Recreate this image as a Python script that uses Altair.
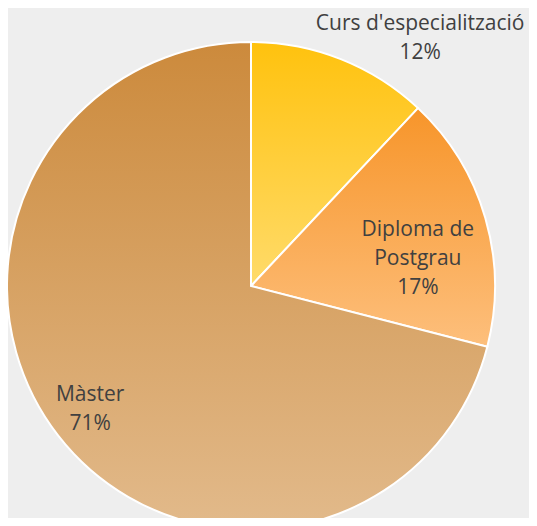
import altair as alt
import pandas as pd

categories = ["Curs d'especialització", "Diploma de Postgrau", "Màster"]
label_lines = [["Curs d'especialització"], ["Diploma de", "Postgrau"], ["Màster"]]
values = [12, 17, 71]
grad_top = ["#FFC20E", "#F7952A", "#CC8A3C"]
grad_bottom = ["#FFDB6A", "#FDBF7C", "#E2BA8B"]

df = pd.DataFrame({
    "cat": categories,
    "value": values,
    "order": list(range(len(categories))),
    "label": [lines + [f"{v}%"] for lines, v in zip(label_lines, values)],
})

W, H = 521, 510
CX, CY, R = 243, 278, 244
LH = 29
# label placement per slice (radius from centre, angular offset in radians)
label_pos = [(300, 0.222), (169, 0.122), (203, 0.004)]

base = alt.Chart(df).transform_joinaggregate(
    total="sum(value)"
).transform_window(
    cum="sum(value)", sort=[alt.SortField("order")], frame=[None, 0]
).transform_calculate(
    start="(datum.cum - datum.value) / datum.total * 2 * PI",
    end="datum.cum / datum.total * 2 * PI",
    mid="(datum.cum - datum.value / 2) / datum.total * 2 * PI",
)

layers = []
for i in range(len(categories)):
    grad = {
        "gradient": "linear", "x1": 0, "y1": 0, "x2": 0, "y2": 1,
        "stops": [{"offset": 0, "color": grad_top[i]},
                  {"offset": 1, "color": grad_bottom[i]}],
    }
    sub = base.transform_filter(alt.datum.order == i)
    arc = sub.mark_arc(radius=R, fill=grad, stroke="white", strokeWidth=2).encode(
        theta=alt.Theta("start:Q", scale=None),
        theta2="end:Q",
        x=alt.value(CX), y=alt.value(CY),
    )
    layers.append(arc)

for i in range(len(categories)):
    r, off = label_pos[i]
    n_lines = len(label_lines[i]) + 1
    sub = base.transform_filter(alt.datum.order == i)
    txt = sub.mark_text(
        radius=r, thetaOffset=off, font="Open Sans", fontSize=21, color="#404040",
        lineHeight=LH, align="center", baseline="middle",
        dy=-(n_lines - 1) * LH / 2,
    ).encode(
        theta=alt.Theta("mid:Q", scale=None, stack=False),
        x=alt.value(CX), y=alt.value(CY),
        text="label",
    )
    layers.append(txt)

chart = alt.layer(*layers).properties(
    width=W, height=H, padding=0, autosize=alt.AutoSizeParams(type="none"),
    background="#eeeeee",
).configure_view(strokeWidth=0)

chart.save("out.html", embed_options={"renderer": "svg", "actions": False})
